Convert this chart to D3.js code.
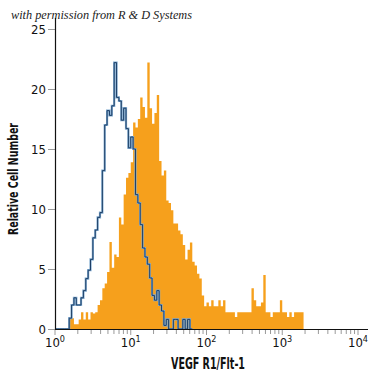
<!DOCTYPE html>
<html><head><meta charset="utf-8">
<script src="https://cdn.jsdelivr.net/npm/d3@7"></script>
<style>
html,body{margin:0;padding:0;background:#fff;}
svg{display:block;}
.cond{font-family:"DejaVu Sans Condensed","DejaVu Sans",sans-serif;font-stretch:condensed;}
</style></head>
<body>
<svg id="chart" width="375" height="375"></svg>
<script>
// Histogram channels: 32 channels per decade on a 4-decade log scale
const channelsPerDecade = 32;
const xTickExponents = [0, 1, 2, 3, 4];
const yTicks = [0, 5, 10, 15, 20, 25];
// VEGF R1/Flt-1 stained cells (orange, filled)
const stainedCounts = [
  0,0,0,0,0,0,1.0,0.9,0.4,0.4,
  0.8,1.4,0.8,1.4,0.8,1.4,1.3,1.4,2.0,2.4,
  3.4,3.8,4.75,7.25,5.1,6.2,6.0,9.3,8.7,11.2,
  12.6,13.0,13.9,17.2,16.8,17.5,19.3,18.5,17.6,22.2,
  18.4,17.1,18.0,19.5,14.0,12.8,13.2,10.7,10.5,9.9,
  8.8,8.8,8.2,7.9,7.0,5.8,6.6,7.2,5.6,5.3,
  4.6,4.2,2.8,1.9,2.2,1.9,2.4,1.9,1.9,2.4,
  1.9,2.4,1.4,1.4,1.4,1.4,1.0,1.4,1.4,1.4,
  1.4,1.4,1.4,3.4,2.4,1.9,1.9,2.2,4.5,1.4,
  1.4,1.0,1.4,1.4,1.4,2.4,1.4,1.4,1.0,1.4,
  1.0,1.4,1.4,1.4,1.4
];
// Isotype control (blue outline)
const controlCounts = [
  0,0,0,0,0,0,0.9,2.0,2.6,2.0,
  2.0,2.6,3.2,4.2,4.9,5.8,7.6,8.25,9.3,9.7,
  13.2,17.0,18.2,17.8,18.6,22.2,19.3,19.0,17.4,18.4,
  16.7,15.1,16.0,15.0,11.2,10.5,8.7,6.75,6.0,5.4,
  4.25,2.8,2.4,3.2,2.0,1.5,0.3,0.8,0,0,
  0.8,0.8,0,0,0.8,0,0.8,0
];

const svg = d3.select("#chart");
const x = d3.scaleLog().domain([1, 1e4]).range([55, 358]);
const y = d3.scaleLinear().domain([0, 25]).range([329, 29]);

function toSteps(arr) {
  const pts = arr.map((v, k) => ({e: Math.pow(10, k / channelsPerDecade), v}));
  pts.push({e: Math.pow(10, arr.length / channelsPerDecade), v: arr[arr.length - 1]});
  return pts;
}

// watermark
svg.append("text").attr("x", 11).attr("y", 19)
  .attr("font-family", "'Liberation Serif','DejaVu Serif',serif")
  .attr("font-style", "italic").attr("font-size", 12).attr("fill", "#222")
  .attr("textLength", 181).attr("lengthAdjust", "spacingAndGlyphs")
  .text("with permission from R & D Systems");

// orange filled histogram
const area = d3.area().curve(d3.curveStepAfter)
  .x(d => x(d.e)).y0(y(0)).y1(d => y(d.v));
svg.append("path").datum(toSteps(stainedCounts))
  .attr("d", area).attr("fill", "#f6a01c");

// blue control outline
const line = d3.line().curve(d3.curveStepAfter).x(d => x(d.e)).y(d => y(d.v));
const ctrl = toSteps(controlCounts);
svg.append("path").datum(ctrl).attr("d", line)
  .attr("fill", "none").attr("stroke", "#7fa9cf").attr("stroke-width", 2.2);
svg.append("path").datum(ctrl).attr("d", line)
  .attr("fill", "none").attr("stroke", "#1d3f66").attr("stroke-width", 1);

// Y axis
const yAxis = d3.axisLeft(y).tickValues(yTicks).tickSize(7).tickPadding(2);
const gy = svg.append("g").attr("transform", "translate(55,0)").call(yAxis);
gy.select(".domain").remove();
gy.attr("font-family", null).attr("font-size", null);
gy.selectAll(".tick line").attr("stroke", "#9a9a9a");
gy.selectAll(".tick text").attr("class", "cond").attr("font-size", 13).attr("fill", "#111");
svg.append("line").attr("x1", 55.5).attr("x2", 55.5).attr("y1", 18).attr("y2", 329.5)
  .attr("stroke", "#111").attr("stroke-width", 1.2);

// X axis
const minorTicks = [];
for (let d = 0; d < 4; d++) for (let m = 2; m <= 9; m++) minorTicks.push(m * Math.pow(10, d));
const gx = svg.append("g").attr("transform", "translate(0,329)");
gx.selectAll("line.minor").data(minorTicks).enter().append("line")
  .attr("x1", d => x(d)).attr("x2", d => x(d)).attr("y1", 1).attr("y2", 5)
  .attr("stroke", "#9a9a9a");
gx.selectAll("line.major").data(xTickExponents).enter().append("line")
  .attr("x1", d => x(Math.pow(10, d))).attr("x2", d => x(Math.pow(10, d)))
  .attr("y1", 1).attr("y2", 6).attr("stroke", "#9a9a9a");
svg.append("line").attr("x1", 55).attr("x2", 368).attr("y1", 329.5).attr("y2", 329.5)
  .attr("stroke", "#111").attr("stroke-width", 1.2);
const lab = gx.selectAll("text.tl").data(xTickExponents).enter().append("text")
  .attr("class", "cond").attr("x", d => x(Math.pow(10, d)))
  .attr("y", 18).attr("text-anchor", "middle").attr("font-size", 13).attr("fill", "#111");
lab.append("tspan").text("10");
lab.append("tspan").attr("dy", -5).attr("font-size", 9).text(d => d);

// axis titles
svg.append("text").attr("class", "cond").attr("x", 208).attr("y", 369)
  .attr("text-anchor", "middle").attr("font-size", 16).attr("font-weight", "bold")
  .attr("textLength", 74).attr("lengthAdjust", "spacingAndGlyphs")
  .attr("fill", "#111").text("VEGF R1/Flt-1");
svg.append("text").attr("class", "cond")
  .attr("transform", "translate(18,179) rotate(-90)")
  .attr("text-anchor", "middle").attr("font-size", 14).attr("font-weight", "bold")
  .attr("textLength", 112).attr("lengthAdjust", "spacingAndGlyphs")
  .attr("fill", "#111").text("Relative Cell Number");
</script>
</body></html>
